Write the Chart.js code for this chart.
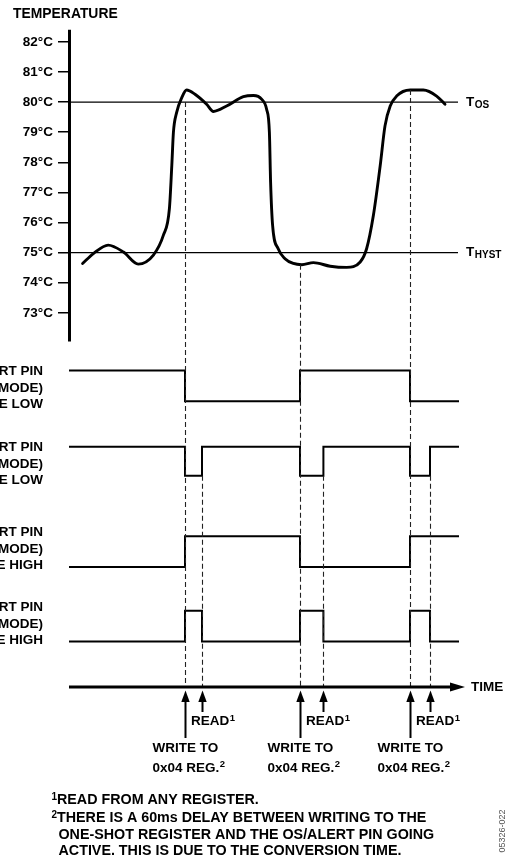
<!DOCTYPE html>
<html><head><meta charset="utf-8">
<script src="https://cdn.jsdelivr.net/npm/chart.js@4.4.1/dist/chart.umd.min.js"></script>
<style>html,body{margin:0;padding:0;background:#fff;}canvas{display:block;}</style>
</head><body>
<canvas id="c" width="512" height="857"></canvas>
<script>
// ---------------- DATA ----------------
const tempTicks = [73, 74, 75, 76, 77, 78, 79, 80, 81, 82];
const tempTime = [3.4, 6.1, 9.8, 13.6, 17.3, 21.1, 23.6, 25.1, 25.7, 26.1, 26.9, 28.2, 29.4, 31.5, 34.4,
  36.1, 39.4, 43.6, 46.1, 48.2, 49.4, 50.1, 50.4, 50.9, 52.3, 54.0, 56.1, 58.2, 61.1, 65.3, 69.4,
  72.8, 74.4, 76.1, 77.8, 79.0, 80.3, 81.9, 85.3, 88.6, 91.9, 94.0];
const tempValue = [74.64, 74.97, 75.25, 75.02, 74.62, 74.92, 75.58, 76.46, 77.89, 78.99, 79.65, 80.15, 80.40, 80.26, 79.93,
  79.69, 79.87, 80.18, 80.22, 80.09, 79.76, 78.99, 77.34, 75.91, 75.13, 74.80, 74.64, 74.60, 74.67, 74.55, 74.51,
  74.69, 75.13, 76.24, 77.89, 79.21, 79.87, 80.20, 80.40, 80.40, 80.20, 79.93];
const thresholdTemps = [80, 75];
const thresholdSubs = ['OS', 'HYST'];
const thresholdEnd = 97.25;
const writeTimes = [29, 57.75, 85.25];
const readTimes = [33.25, 63.6, 90.25];
const writeMarkTemps = [80, 74.6, 80.4];
const compLowTimes = [0, 29, 57.75, 85.25, 97.5];
const compLowLevels = [1, 0, 1, 0, 0];
const intLowTimes = [0, 29, 33.25, 57.75, 63.6, 85.25, 90.25, 97.5];
const intLowLevels = [1, 0, 1, 0, 1, 0, 1, 1];
const compHighTimes = [0, 29, 57.75, 85.25, 97.5];
const compHighLevels = [0, 1, 0, 1, 1];
const intHighTimes = [0, 29, 33.25, 57.75, 63.6, 85.25, 90.25, 97.5];
const intHighLevels = [0, 1, 0, 1, 0, 1, 0, 0];
const traceLabels = [
  ['OS/ALERT PIN', '(COMPARATOR MODE)', 'POLARITY = ACTIVE LOW'],
  ['OS/ALERT PIN', '(INTERRUPT MODE)', 'POLARITY = ACTIVE LOW'],
  ['OS/ALERT PIN', '(COMPARATOR MODE)', 'POLARITY = ACTIVE HIGH'],
  ['OS/ALERT PIN', '(INTERRUPT MODE)', 'POLARITY = ACTIVE HIGH']
];
const axisTitle = 'TEMPERATURE';
const timeLabel = 'TIME';
const readLabel = 'READ';
const writeLabel = ['WRITE TO', '0x04 REG.'];
const footnotes = [
  ['1', 'READ FROM ANY REGISTER.'],
  ['2', 'THERE IS A 60ms DELAY BETWEEN WRITING TO THE'],
  ['', 'ONE-SHOT REGISTER AND THE OS/ALERT PIN GOING'],
  ['', 'ACTIVE. THIS IS DUE TO THE CONVERSION TIME.']
];
const figCode = '05326-022';

// ---------------- LAYOUT ----------------
const H = 857, PAD_T = 10, PAD_B = 10;
const AREA_TOP = PAD_T, AREA_BOT = H - PAD_B;
function fit(v1, p1, v2, p2) {
  const u = (p1 - p2) / (v2 - v1);
  return { min: v1 - (AREA_BOT - p1) / u, max: v2 + (p2 - AREA_TOP) / u };
}
const rT = fit(73, 312, 82, 39);
const r1 = fit(0, 401, 1, 370);
const r2 = fit(0, 476, 1, 447);
const r3 = fit(0, 568, 1, 537);
const r4 = fit(0, 643, 1, 612);
const FONT = '"Liberation Sans", Arial, Helvetica, sans-serif';
const F = (s, w) => (w || 'bold') + ' ' + s + 'px ' + FONT;
const TIME_Y = 687;
const traceLabelY = [388, 464, 549, 624];

const pts = (xs, ys) => xs.map((x, i) => ({ x: x, y: ys[i] }));

const datasets = [
  { data: pts(tempTime, tempValue), yAxisID: 'yT', borderColor: '#000', borderWidth: 2.9,
    cubicInterpolationMode: 'monotone', pointRadius: 0, fill: false, borderCapStyle: 'round', borderJoinStyle: 'round' },
  ...thresholdTemps.map(t => ({ data: [{ x: 0, y: t }, { x: thresholdEnd, y: t }], yAxisID: 'yT',
    borderColor: '#000', borderWidth: 1.3, pointRadius: 0, fill: false })),
  { data: pts(compLowTimes, compLowLevels), yAxisID: 'y1', stepped: true, borderColor: '#000', borderWidth: 2, pointRadius: 0 },
  { data: pts(intLowTimes, intLowLevels), yAxisID: 'y2', stepped: true, borderColor: '#000', borderWidth: 2, pointRadius: 0 },
  { data: pts(compHighTimes, compHighLevels), yAxisID: 'y3', stepped: true, borderColor: '#000', borderWidth: 2, pointRadius: 0 },
  { data: pts(intHighTimes, intHighLevels), yAxisID: 'y4', stepped: true, borderColor: '#000', borderWidth: 2, pointRadius: 0 }
];

const hidden = r => ({ type: 'linear', display: false, min: r.min, max: r.max });

const decor = {
  id: 'decor',
  afterDatasetsDraw(chart) {
    const ctx = chart.ctx, xs = chart.scales.x, yT = chart.scales.yT, ca = chart.chartArea;
    ctx.save();
    ctx.fillStyle = '#000'; ctx.strokeStyle = '#000';
    // vertical temperature axis
    ctx.lineWidth = 3;
    ctx.beginPath();
    ctx.moveTo(ca.left + 0.5, yT.getPixelForValue(82.4));
    ctx.lineTo(ca.left + 0.5, yT.getPixelForValue(72.05));
    ctx.stroke();
    // axis title
    ctx.textBaseline = 'middle'; ctx.textAlign = 'left';
    ctx.font = F(13.9);
    ctx.fillText(axisTitle, 13, 14);
    // threshold labels
    thresholdTemps.forEach((t, i) => {
      const x = xs.getPixelForValue(thresholdEnd) + 8, y = yT.getPixelForValue(t);
      ctx.font = F(13.5); ctx.fillText('T', x, y);
      const w = ctx.measureText('T').width;
      ctx.font = F(10); ctx.fillText(thresholdSubs[i], x + w + 0.5, y + 3);
    });
    // trace labels
    ctx.textAlign = 'right'; ctx.font = F(13.5);
    traceLabels.forEach((lines, i) => {
      lines.forEach((s, j) => ctx.fillText(s, 43, traceLabelY[i] + (j - 1) * 16.5));
    });
    // dashed markers
    ctx.setLineDash([5, 3]); ctx.lineWidth = 1.1; ctx.strokeStyle = '#222';
    writeTimes.forEach((t, i) => {
      const x = Math.round(xs.getPixelForValue(t)) + 0.5;
      ctx.beginPath(); ctx.moveTo(x, yT.getPixelForValue(writeMarkTemps[i])); ctx.lineTo(x, TIME_Y); ctx.stroke();
    });
    readTimes.forEach(t => {
      const x = Math.round(xs.getPixelForValue(t)) + 0.5;
      ctx.beginPath(); ctx.moveTo(x, chart.scales.y2.getPixelForValue(0)); ctx.lineTo(x, TIME_Y); ctx.stroke();
    });
    ctx.setLineDash([]); ctx.strokeStyle = '#000';
    // time axis
    const xEnd = xs.getPixelForValue(99);
    ctx.lineWidth = 3;
    ctx.beginPath(); ctx.moveTo(ca.left, TIME_Y); ctx.lineTo(xEnd - 12, TIME_Y); ctx.stroke();
    ctx.beginPath(); ctx.moveTo(xEnd, TIME_Y); ctx.lineTo(xEnd - 15, TIME_Y - 4.5); ctx.lineTo(xEnd - 15, TIME_Y + 4.5); ctx.closePath(); ctx.fill();
    ctx.textAlign = 'left'; ctx.font = F(13.5);
    ctx.fillText(timeLabel, xEnd + 6, TIME_Y);
    // arrows
    const arrow = (x, yEnd) => {
      ctx.lineWidth = 2;
      ctx.beginPath(); ctx.moveTo(x, 700); ctx.lineTo(x, yEnd); ctx.stroke();
      ctx.beginPath(); ctx.moveTo(x, 690.5); ctx.lineTo(x - 4.2, 702); ctx.lineTo(x + 4.2, 702); ctx.closePath(); ctx.fill();
    };
    writeTimes.forEach(t => arrow(Math.round(xs.getPixelForValue(t)) + 0.5, 738));
    readTimes.forEach(t => arrow(Math.round(xs.getPixelForValue(t)) + 0.5, 712));
    // READ / WRITE labels
    writeTimes.forEach(t => {
      const x = xs.getPixelForValue(t);
      ctx.font = F(13.5); ctx.fillText(readLabel, x + 6, 721.5);
      let w = ctx.measureText(readLabel).width;
      ctx.font = F(9.5); ctx.fillText('1', x + 6 + w + 0.5, 718);
      ctx.font = F(13.5);
      ctx.fillText(writeLabel[0], x - 32.5, 748);
      ctx.fillText(writeLabel[1], x - 32.5, 768);
      w = ctx.measureText(writeLabel[1]).width;
      ctx.font = F(9.5); ctx.fillText('2', x - 32.5 + w + 0.5, 764.5);
    });
    // footnotes
    const fy = [800.5, 818.5, 835.5, 851.5];
    footnotes.forEach((f, i) => {
      if (f[0]) {
        ctx.font = F(10); ctx.fillText(f[0], 51.5, fy[i] - 3.5);
        ctx.font = F(14.3); ctx.fillText(f[1], 57, fy[i]);
      } else {
        ctx.font = F(14.3); ctx.fillText(f[1], 58.5, fy[i]);
      }
    });
    // figure code
    ctx.save();
    ctx.translate(503, 831); ctx.rotate(-Math.PI / 2);
    ctx.textAlign = 'center'; ctx.fillStyle = '#555'; ctx.font = F(9, 'normal');
    ctx.fillText(figCode, 0, 0);
    ctx.restore();
    ctx.restore();
  }
};

new Chart(document.getElementById('c'), {
  type: 'line',
  data: { datasets: datasets },
  options: {
    responsive: false, animation: false, events: [],
    layout: { padding: { left: 0, right: 43, top: PAD_T, bottom: PAD_B } },
    plugins: { legend: { display: false }, tooltip: { enabled: false } },
    scales: {
      x: { type: 'linear', display: false, min: 0, max: 100 },
      yT: {
        type: 'linear', position: 'left', min: rT.min, max: rT.max,
        afterFit: s => { s.width = 69; },
        afterBuildTicks: s => { s.ticks = tempTicks.map(v => ({ value: v })); },
        border: { display: false },
        grid: { display: true, drawOnChartArea: false, drawTicks: true, tickLength: 11, color: '#000', lineWidth: 1.5 },
        ticks: { padding: 5, color: '#000', font: { family: FONT, weight: 'bold', size: 13.5 }, callback: v => v + '°C', autoSkip: false }
      },
      y1: hidden(r1), y2: hidden(r2), y3: hidden(r3), y4: hidden(r4)
    }
  },
  plugins: [decor]
});
</script>
</body></html>
